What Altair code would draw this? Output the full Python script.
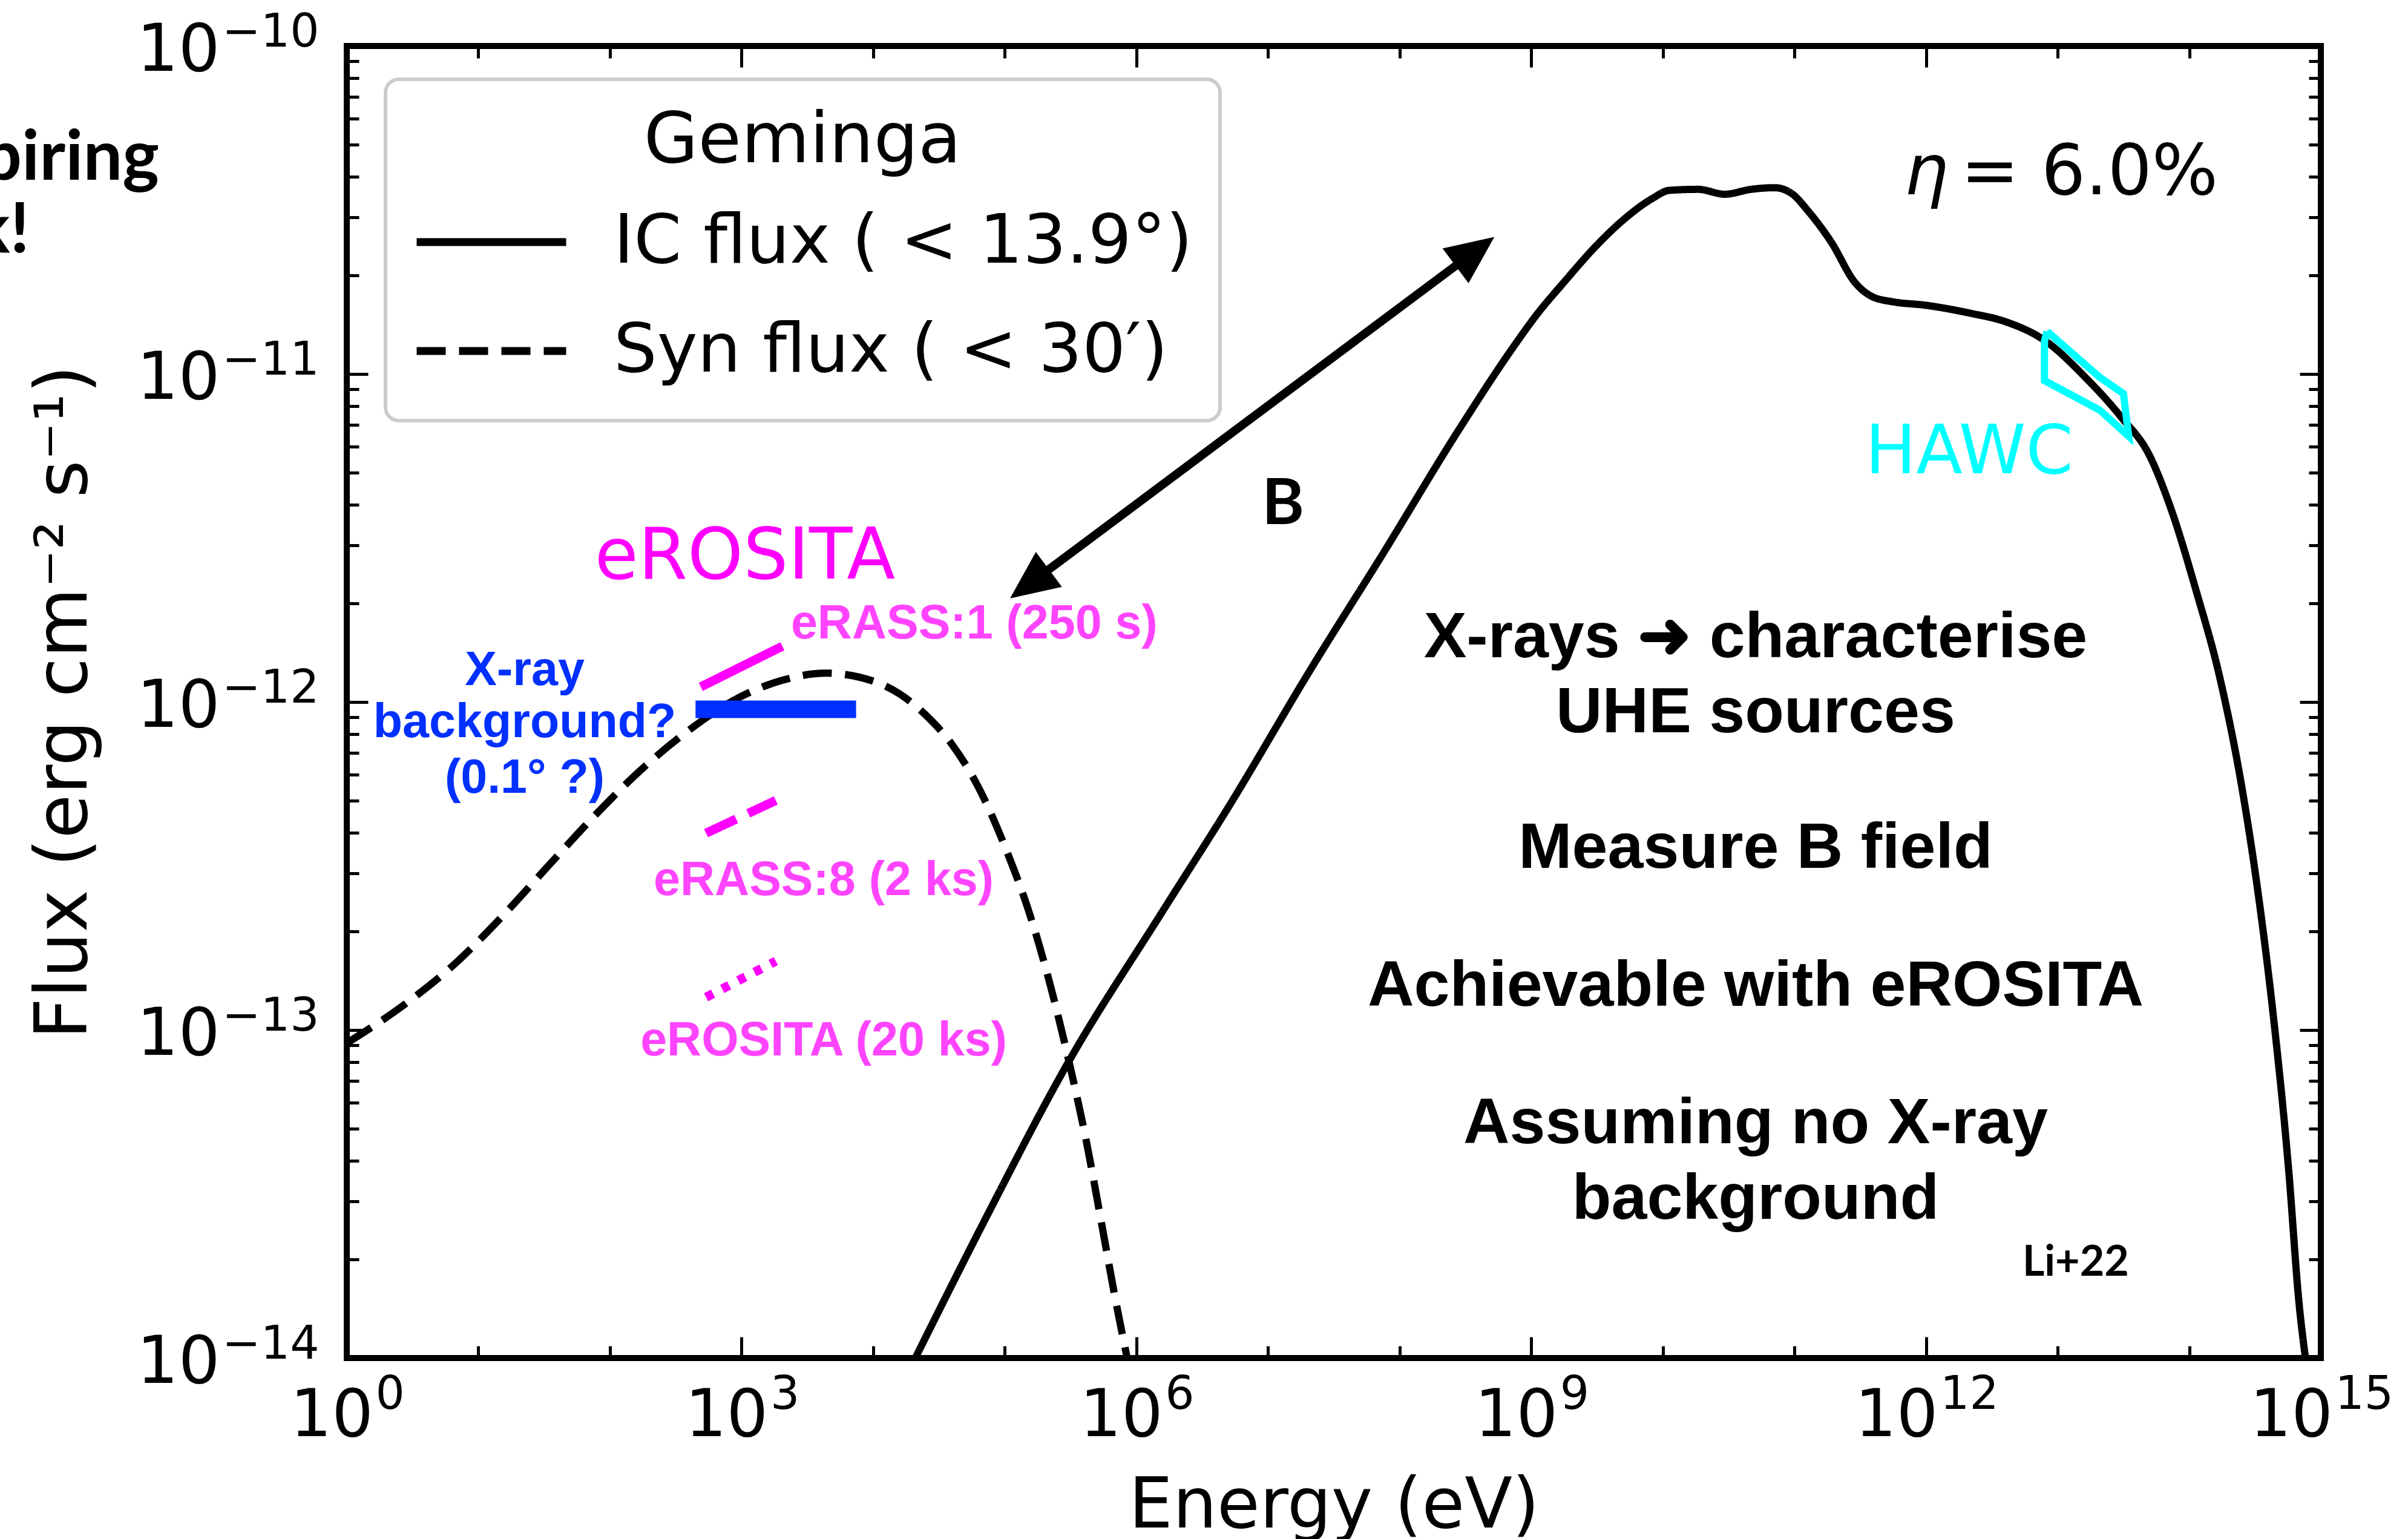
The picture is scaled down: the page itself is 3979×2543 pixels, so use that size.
import json
import pandas as pd
import altair as alt

# ---------------- curves: log10 E [eV] and log10 flux [erg cm^-2 s^-1] -------------
ic_logE = [4.32, 4.86, 5.48, 6.18, 6.70, 7.34, 7.87, 8.45, 8.86, 9.04, 9.26, 9.48, 9.70, 9.92,
           10.05, 10.27, 10.47, 10.67, 10.85, 10.98, 11.11, 11.28, 11.46, 11.59, 11.75, 11.99,
           12.34, 12.60, 12.91, 13.21, 13.48, 13.70, 13.856, 14.054, 14.229, 14.404, 14.521,
           14.637, 14.754, 14.836, 14.883]
ic_logF = [-14.00, -13.57, -13.10, -12.65, -12.32, -11.89, -11.55, -11.17, -10.92, -10.82,
           -10.715, -10.615, -10.53, -10.465, -10.44, -10.437, -10.452, -10.437, -10.432,
           -10.45, -10.506, -10.598, -10.721, -10.764, -10.78, -10.79, -10.815, -10.84, -10.90,
           -11.01, -11.13, -11.25, -11.405, -11.663, -11.92, -12.27, -12.576, -12.95, -13.42,
           -13.84, -14.00]

syn_logE = [0.0, 0.48, 0.83, 1.18, 1.53, 1.88, 2.235, 2.59, 2.94, 3.29, 3.64, 3.99, 4.20,
            4.40, 4.60, 4.80, 5.00, 5.20, 5.35, 5.49, 5.62, 5.74, 5.84, 5.93]
syn_logF = [-13.04, -12.91, -12.795, -12.654, -12.50, -12.348, -12.207, -12.089, -11.995,
            -11.936, -11.912, -11.935, -11.975, -12.04, -12.13, -12.26, -12.44, -12.66,
            -12.87, -13.10, -13.34, -13.60, -13.82, -14.00]

series_names = ["IC flux ( < 13.9°)", "Syn flux ( < 30′)"]

# HAWC butterfly outline
hawc_logE = [12.92, 13.32, 13.50, 13.54, 13.32, 12.90, 12.90, 12.92]
hawc_logF = [-10.87, -11.01, -11.06, -11.19, -11.11, -11.02, -10.90, -10.87]

# eROSITA sensitivity segments and X-ray background bar
erass1_logE = [2.69, 3.31]
erass1_logF = [-11.954, -11.830]
erass8_logE = [2.73, 3.26]
erass8_logF = [-12.40, -12.30]
ero20_logE = [2.73, 3.26]
ero20_logF = [-12.90, -12.79]
bkg_logE = [2.65, 3.87]
bkg_logF = [-12.022]

# double arrow "B"
arrow_tip_logE = [5.04, 8.72]
arrow_tip_logF = [-11.684, -10.582]
arrow_shaft_logE = [5.224, 8.536]
arrow_shaft_logF = [-11.629, -10.637]
arrow_angle = [233.3, 53.3]

# ticks
x_major = [1e0, 1e3, 1e6, 1e9, 1e12, 1e15]
x_minor = [1e1, 1e2, 1e4, 1e5, 1e7, 1e8, 1e10, 1e11, 1e13, 1e14]
tick_base = "10"
x_tick_exp = ["0", "3", "6", "9", "12", "15"]
y_major = [1e-14, 1e-13, 1e-12, 1e-11, 1e-10]
y_minor = [2e-14, 3e-14, 4e-14, 5e-14, 6e-14, 7e-14, 8e-14, 9e-14,
           2e-13, 3e-13, 4e-13, 5e-13, 6e-13, 7e-13, 8e-13, 9e-13,
           2e-12, 3e-12, 4e-12, 5e-12, 6e-12, 7e-12, 8e-12, 9e-12,
           2e-11, 3e-11, 4e-11, 5e-11, 6e-11, 7e-11, 8e-11, 9e-11]
y_tick_exp = ["−14", "−13", "−12", "−11", "−10"]

# annotations (text, log10 E, log10 F)
main_text = ["X-rays ➜ characterise", "UHE sources", "Measure B field",
             "Achievable with eROSITA", "Assuming no X-ray", "background"]
main_logE = [10.705] * 6
main_logF = [-11.8635, -12.0923, -12.5055, -12.926, -13.345, -13.5756]

blue_text = ["X-ray", "background?", "(0.1° ?)"]
blue_logE = [1.352, 1.352, 1.352]
blue_logF = [-11.948, -12.1065, -12.277]

pink_text = ["eRASS:1 (250 s)", "eRASS:8 (2 ks)", "eROSITA (20 ks)"]
pink_logE = [4.768, 3.624, 3.624]
pink_logF = [-11.806, -12.589, -13.077]

big_text = ["eROSITA"]
big_logE = [3.026]
big_logF = [-11.6236]

hawc_text = ["HAWC"]
hawc_t_logE = [12.328]
hawc_t_logF = [-11.3026]

eta_text = ["η"]
eta_logE = [12.002]
eta_logF = [-10.452]
eq_text = ["= 6.0%"]
eq_logE = [12.264]
eq_logF = [-10.452]

b_text = ["B"]
b_logE = [7.114]
b_logF = [-11.4576]

ref_text = ["Li+22"]
ref_logE = [13.137]
ref_logF = [-13.749]

cut_text = ["piring", "k!"]
cut_logE = [-1.4255, -2.41]
cut_logF = [-10.4077, -10.629]

# ---------------------------------------------------------------------------------
XS = alt.Scale(type="log", domain=[1, 1e15], nice=False)
YS = alt.Scale(type="log", domain=[1e-14, 1e-10], nice=False)
TICK_FONT = 108
EXP_FONT = 76


def frame(logE, logF, **extra):
    d = {"E": [10 ** v for v in logE], "F": [10 ** v for v in logF]}
    d.update(extra)
    return pd.DataFrame(d)


def enc(chart, **kw):
    return chart.encode(x=alt.X("E:Q", scale=XS, axis=None),
                        y=alt.Y("F:Q", scale=YS, axis=None), **kw)


# ---- axes layers (inward ticks on all four sides, mathtext-like labels) ----
dummy = pd.DataFrame({"E": [1.0, 1e15], "F": [1e-14, 1e-10]})


def tick_axis(orient, values, size):
    return alt.Axis(orient=orient, values=values, labels=False, domain=False, grid=False,
                    ticks=True, tickSize={"expr": str(-size)}, tickWidth=5,
                    tickColor="black", title=None)


def axis_layer(xa, ya):
    return alt.Chart(dummy).mark_point(opacity=0).encode(
        x=alt.X("E:Q", scale=XS, axis=xa), y=alt.Y("F:Q", scale=YS, axis=ya))


common = dict(ticks=False, domain=False, grid=False, labelFont="DejaVu Sans",
              labelColor="black", labelFlush=False, labelOverlap=False, labelLimit=0)

two_digit = "datum.value >= 1e12"
x_base_axis = alt.Axis(
    orient="bottom", values=x_major, labelExpr=json.dumps(tick_base),
    labelFontSize=TICK_FONT, labelAlign="left", labelBaseline="alphabetic", labelPadding=128,
    labelOffset={"condition": {"test": two_digit, "value": -118}, "value": -94},
    title="Energy (eV)", titleFont="DejaVu Sans", titleFontSize=115,
    titleFontWeight="normal", titleColor="black", titleX=1631, titleY=279,
    titleAlign="center", titleBaseline="alphabetic", titleLimit=0, **common)
x_exp_axis = alt.Axis(
    orient="bottom", values=x_major,
    labelExpr=json.dumps(x_tick_exp, ensure_ascii=False) + "[round(log(datum.value)/LN10/3)]",
    labelFontSize=EXP_FONT, labelAlign="left", labelBaseline="alphabetic", labelPadding=83,
    labelOffset={"condition": {"test": two_digit, "value": 23}, "value": 47},
    title=None, **common)
y_base_axis = alt.Axis(
    orient="left", values=y_major, labelExpr=json.dumps(tick_base),
    labelFontSize=TICK_FONT, labelAlign="right", labelBaseline="alphabetic", labelPadding=210,
    labelOffset=40,
    title="Flux (erg cm⁻² s⁻¹)", titleFont="DejaVu Sans", titleFontSize=119,
    titleFontWeight="normal", titleColor="black", titleX=-431, titleY=1084,
    titleAngle=270, titleAlign="center", titleBaseline="alphabetic", titleLimit=0, **common)
y_exp_axis = alt.Axis(
    orient="left", values=y_major,
    labelExpr=json.dumps(y_tick_exp, ensure_ascii=False) + "[round(log(datum.value)/LN10)+14]",
    labelFontSize=EXP_FONT, labelAlign="right", labelBaseline="alphabetic", labelPadding=46,
    labelOffset=0, title=None, **common)

axes = [
    axis_layer(x_base_axis, y_base_axis),
    axis_layer(x_exp_axis, y_exp_axis),
    axis_layer(tick_axis("bottom", x_major, 35), tick_axis("left", y_major, 35)),
    axis_layer(tick_axis("bottom", x_minor, 20), tick_axis("left", y_minor, 20)),
    axis_layer(tick_axis("top", x_major, 35), tick_axis("right", y_major, 35)),
    axis_layer(tick_axis("top", x_minor, 20), tick_axis("right", y_minor, 20)),
]

# ---- curves with legend ----
curves = pd.concat([
    frame(ic_logE, ic_logF, series=[series_names[0]] * len(ic_logE)),
    frame(syn_logE, syn_logF, series=[series_names[1]] * len(syn_logE)),
])
legend = alt.Legend(
    title="Geminga", orient="none", legendX=64, legendY=55,
    titleFont="DejaVu Sans", titleFontSize=116, titleFontWeight="normal", titleColor="black",
    titleAnchor="middle", titlePadding=38, titleLimit=0,
    labelFont="DejaVu Sans", labelFontSize=113, labelColor="black", labelOffset=72, labelLimit=0,
    symbolType="stroke", symbolSize=61009, symbolStrokeWidth=13, symbolStrokeColor="black",
    clipHeight=140, rowPadding=40, padding=45,
    fillColor="white", strokeColor="#cccccc", cornerRadius=22,
)
curve_layer = enc(
    alt.Chart(curves).mark_line(color="black", strokeWidth=12, interpolate="monotone"),
    strokeDash=alt.StrokeDash("series:N",
                              scale=alt.Scale(domain=series_names, range=[[1, 0], [48, 22]]),
                              legend=legend),
)

hawc_layer = enc(
    alt.Chart(frame(hawc_logE, hawc_logF, i=list(range(len(hawc_logE)))))
    .mark_line(color="#00ffff", strokeWidth=12, strokeJoin="miter"),
    order="i:Q",
)

MAG = "#ff00ff"
erass1_layer = enc(alt.Chart(frame(erass1_logE, erass1_logF)).mark_line(color=MAG, strokeWidth=15))
erass8_layer = enc(alt.Chart(frame(erass8_logE, erass8_logF))
                   .mark_line(color=MAG, strokeWidth=15, strokeDash=[55, 22]))
ero20_layer = enc(alt.Chart(frame(ero20_logE, ero20_logF))
                  .mark_line(color=MAG, strokeWidth=15, strokeDash=[13, 17]))

bkg_df = pd.DataFrame({"E": [10 ** bkg_logE[0]], "E2": [10 ** bkg_logE[1]], "F": [10 ** bkg_logF[0]]})
bkg_layer = alt.Chart(bkg_df).mark_rule(color="#0030ff", strokeWidth=29).encode(
    x=alt.X("E:Q", scale=XS, axis=None), x2="E2:Q", y=alt.Y("F:Q", scale=YS, axis=None))

shaft_df = pd.DataFrame({"E": [10 ** arrow_shaft_logE[0]], "E2": [10 ** arrow_shaft_logE[1]],
                         "F": [10 ** arrow_shaft_logF[0]], "F2": [10 ** arrow_shaft_logF[1]]})
shaft_layer = alt.Chart(shaft_df).mark_rule(color="black", strokeWidth=14).encode(
    x=alt.X("E:Q", scale=XS, axis=None), x2="E2:Q",
    y=alt.Y("F:Q", scale=YS, axis=None), y2="F2:Q")
head_layer = enc(
    alt.Chart(frame(arrow_tip_logE, arrow_tip_logF, a=arrow_angle))
    .mark_point(shape="M0,0L-0.45,1L0.45,1Z", filled=True, size=25600, color="black",
                opacity=1, strokeWidth=0),
    angle=alt.Angle("a:Q", scale=None),
)


def text_layer(texts, logE, logF, font, size, color, weight="normal", align="center",
               style="normal"):
    return enc(
        alt.Chart(frame(logE, logF, t=texts)).mark_text(
            font=font, fontSize=size, color=color, fontWeight=weight, align=align,
            baseline="alphabetic", fontStyle=style),
        text="t:N",
    )


texts = [
    text_layer(main_text, main_logE, main_logF, "Liberation Sans", 106, "black", "bold"),
    text_layer(blue_text, blue_logE, blue_logF, "Liberation Sans", 79, "#0030ff", "bold"),
    text_layer(pink_text, pink_logE, pink_logF, "Liberation Sans", 79, "#ff44ff", "bold"),
    text_layer(big_text, big_logE, big_logF, "DejaVu Sans", 117, MAG),
    text_layer(hawc_text, hawc_t_logE, hawc_t_logF, "DejaVu Sans", 112, "#00ffff"),
    text_layer(eta_text, eta_logE, eta_logF, "DejaVu Sans", 115, "black", style="italic"),
    text_layer(eq_text, eq_logE, eq_logF, "DejaVu Sans", 115, "black", align="left"),
    text_layer(b_text, b_logE, b_logF, "Lato", 106, "black", "bold"),
    text_layer(ref_text, ref_logE, ref_logF, "Lato", 70, "black", "bold"),
    text_layer(cut_text, cut_logE, cut_logF, "Lato", 115, "black", "bold", align="right"),
]

chart = alt.layer(
    *axes, curve_layer, hawc_layer, erass1_layer, erass8_layer, ero20_layer, bkg_layer,
    shaft_layer, head_layer, *texts
).resolve_axis(x="independent", y="independent").properties(
    width=3262, height=2168,
    autosize=alt.AutoSizeParams(type="none"),
    padding={"left": 573, "top": 76, "right": 144, "bottom": 299},
    background="white",
).configure_view(stroke="black", strokeWidth=10).configure_legend(strokeWidth=6)

chart.save("out.html", embed_options={"renderer": "svg", "actions": False})
